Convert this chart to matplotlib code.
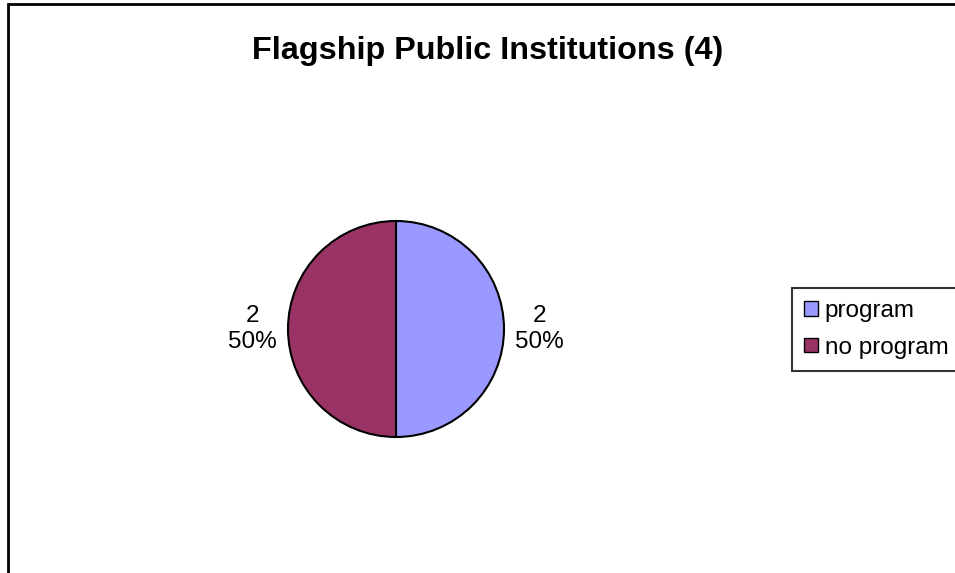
import numpy as np
import matplotlib.pyplot as plt
from matplotlib.patches import Rectangle, Patch

plt.rcParams['font.family'] = ['Liberation Sans', 'DejaVu Sans']

# данные
labels = ['program', 'no program']
counts = [2, 2]
colors = ['#9999FF', '#993366']
title = 'Flagship Public Institutions (4)'

W, H = 955, 573
cx, cy, r = 396, 329, 108  # центр и радиус круга в пикселях

fig = plt.figure(figsize=(W / 100, H / 100), dpi=100)
ax = fig.add_axes([0, 0, 1, 1])

total = sum(counts)
wedges = ax.pie(counts, colors=colors, startangle=90, counterclock=False,
                radius=1, center=(0, 0), frame=True,
                wedgeprops=dict(edgecolor='black', linewidth=1.5))[0]
ax.set_xlim(-cx / r, (W - cx) / r)
ax.set_ylim(-(H - cy) / r, cy / r)
ax.axis('off')

# подписи "значение\nпроцент" снаружи
for w, v in zip(wedges, counts):
    ang = np.deg2rad((w.theta1 + w.theta2) / 2)
    ax.text(1.33 * np.cos(ang), 1.33 * np.sin(ang) - 0.0,
            f"{v}\n{v / total * 100:.0f}%", ha='center', va='center',
            fontsize=17.5, linespacing=1.2)

fig.text(488 / W, 1 - 51 / H, title, ha='center', va='center',
         fontsize=23.3, fontweight='bold')

# рамка
fig.patches.append(Rectangle((8 / W, -0.1), 1.2, 1.1 - 4 / H, transform=fig.transFigure,
                             fill=False, edgecolor='black', linewidth=2))

handles = [Patch(facecolor=c, edgecolor='black', label=l) for c, l in zip(colors, labels)]
leg = fig.legend(handles=handles, loc='upper left',
                 bbox_to_anchor=(792 / W, 1 - 288 / H),
                 fontsize=17.5, frameon=True, fancybox=False,
                 handlelength=0.55, handleheight=0.55, handletextpad=0.3,
                 labelspacing=0.6, borderpad=0.5, borderaxespad=0)
leg.get_frame().set_edgecolor('black')
leg.get_frame().set_linewidth(1.5)

fig.savefig('out.png', dpi=100)
